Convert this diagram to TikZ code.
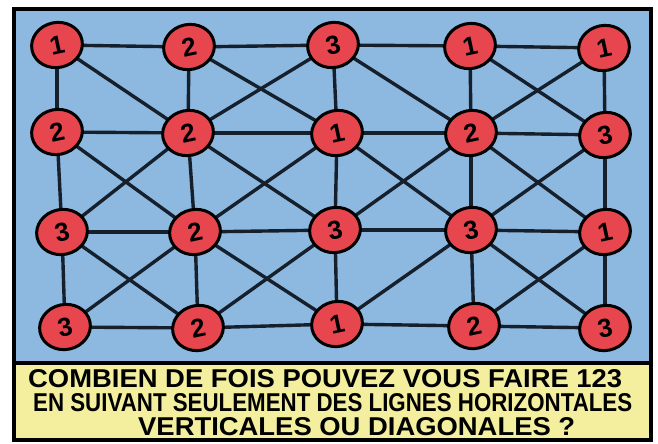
\documentclass[tikz,border=0pt]{standalone}
\usepackage{fontspec}
\usepackage{graphicx}
\setmainfont{Liberation Sans}
\usetikzlibrary{shapes.geometric}
\definecolor{skyblue}{HTML}{8DB8DF}
\definecolor{nodered}{HTML}{E8464F}
\definecolor{paleyellow}{HTML}{F3EF9E}
\definecolor{ink}{HTML}{15202C}
\begin{document}
\begin{tikzpicture}[x=1pt,y=-1pt,
  dot/.style={ellipse, draw=black, line width=3pt, fill=nodered,
    minimum width=51pt, minimum height=45pt, inner sep=0pt,
    font=\fontsize{26}{26}\selectfont\bfseries, rotate=12},
  link/.style={draw=ink, line width=3.4pt},
  framebox/.style={draw=black, line width=3.2pt},
  caption/.style={anchor=base west, inner sep=0pt,
    font=\fontsize{24}{24}\selectfont\bfseries}]
\useasboundingbox (0,0) rectangle (658,444);
% background panels
\fill[skyblue] (14,9) rectangle (651,363);
\fill[paleyellow] (14,363) rectangle (651,440);
\draw[framebox] (14,9) rectangle (651,440);
\draw[framebox] (14,363) -- (651,363);
% node positions
\foreach \r/\c/\x/\y in {
  1/1/57/45, 1/2/189/47, 1/3/333/45, 1/4/470/46, 1/5/604/48,
  2/1/57/132, 2/2/188/133, 2/3/337/133, 2/4/471/133, 2/5/605/135,
  3/1/62/232, 3/2/195/232, 3/3/335/230, 3/4/471/230, 3/5/605/232,
  4/1/65/327, 4/2/198/328, 4/3/337/324, 4/4/474/326, 4/5/605/328}
  \coordinate (p\r\c) at (\x,\y);
% connectors (behind nodes)
\foreach \a/\b in {
  % horizontal
  11/12,12/13,13/14,14/15, 21/22,22/23,23/24,24/25,
  31/32,32/33,33/34,34/35, 41/42,42/43,43/44,44/45,
  % vertical
  11/21,21/31,31/41, 12/22,22/32,32/42, 13/23,23/33,33/43,
  14/24,24/34,34/44, 15/25,25/35,35/45,
  % diagonals rows 1-2
  11/22, 12/23,22/13, 13/24, 14/25,24/15,
  % diagonals rows 2-3
  21/32,22/31, 22/33,32/23, 23/34,24/33, 24/35,25/34,
  % diagonals rows 3-4
  31/42,41/32, 32/43,42/33, 43/34, 34/45,44/35}
  \draw[link] (p\a) -- (p\b);
\foreach \r/\c/\t in {
  1/1/1, 1/2/2, 1/3/3, 1/4/1, 1/5/1,
  2/1/2, 2/2/2, 2/3/1, 2/4/2, 2/5/3,
  3/1/3, 3/2/2, 3/3/3, 3/4/3, 3/5/1,
  4/1/3, 4/2/2, 4/3/1, 4/4/2, 4/5/3}
  \node[dot] (n\r\c) at (p\r\c) {\t};
% caption
\node[caption] (l1) at (28,387)
  {\resizebox{594pt}{18pt}{COMBIEN DE FOIS POUVEZ VOUS FAIRE 123}};
\node[caption] (l2) at (33,411)
  {\resizebox{599pt}{18pt}{EN SUIVANT SEULEMENT DES LIGNES HORIZONTALES}};
\node[caption] (l3) at (138,435)
  {\resizebox{437pt}{18pt}{VERTICALES OU DIAGONALES ?}};
\end{tikzpicture}
\end{document}
